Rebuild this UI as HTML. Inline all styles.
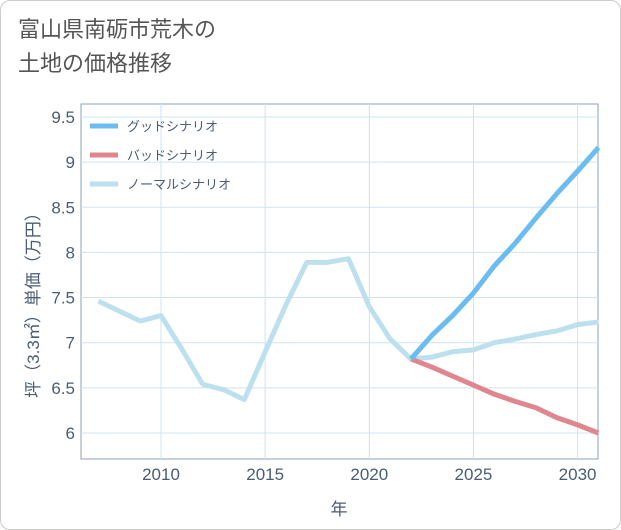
<!DOCTYPE html>
<html><head><meta charset="utf-8"><style>
body{margin:0;background:#fff;font-family:"Liberation Sans","Noto Sans CJK JP",sans-serif;}
#wrap{position:relative;width:619px;height:528px;border:1px solid #ccc;border-radius:10px;overflow:hidden;}
#title{position:absolute;left:17px;top:12px;font-size:22px;line-height:34px;color:#555;}
</style></head><body>
<div id="wrap">
<div id="title">富山県南砺市荒木の<br>土地の価格推移</div>
<svg id="chart" width="621" height="530" style="position:absolute;left:0;top:0"></svg>
</div>
<script>
const years=[2007,2008,2009,2010,2011,2012,2013,2014,2015,2016,2017,2018,2019,2020,2021,2022,2023,2024,2025,2026,2027,2028,2029,2030,2031];
const normalVals=[7.46,7.35,7.24,7.30,6.93,6.54,6.48,6.37,6.90,7.42,7.89,7.89,7.93,7.40,7.04,6.82,6.84,6.90,6.92,7.00,7.04,7.09,7.13,7.20,7.23];
const futureYears=[2022,2023,2024,2025,2026,2027,2028,2029,2030,2031];
const goodVals=[6.82,7.08,7.30,7.55,7.85,8.10,8.38,8.65,8.90,9.16];
const badVals=[6.82,6.73,6.63,6.53,6.43,6.35,6.28,6.17,6.09,6.00];
const xTicks=[2010,2015,2020,2025,2030];
const yTicks=[6,6.5,7,7.5,8,8.5,9,9.5];
const legendLabels=["グッドシナリオ","バッドシナリオ","ノーマルシナリオ"];
const colors=["#6bbcf0","#e0868e","#bde0ee"];
const L=80,R=597,T=103,B=458;
const x=v=>160+(v-2010)*20.83;
const y=v=>432-(v-6)*90.3;
const svg=document.getElementById('chart');
const NS='http://www.w3.org/2000/svg';
function mk(t,a){const e=document.createElementNS(NS,t);for(const k in a)e.setAttribute(k,a[k]);svg.appendChild(e);return e;}
const bg=mk('rect',{x:L,y:T,width:R-L,height:B-T,fill:'#fff',stroke:'#8aa0b8','stroke-width':1});


xTicks.forEach(t=>{const g=mk('line',{x1:x(t),x2:x(t),y1:T,y2:B,stroke:'#cfe3f0','stroke-width':1});


const tx=mk('text',{x:x(t),y:479,'text-anchor':'middle','font-size':17,fill:'#4a5d73'});tx.textContent=t;

});
yTicks.forEach(t=>{const g=mk('line',{x1:L,x2:R,y1:y(t),y2:y(t),stroke:'#cfe3f0','stroke-width':1});


const tx=mk('text',{x:74,y:y(t)+6,'text-anchor':'end','font-size':17,fill:'#4a5d73'});tx.textContent=t;

});
function line(xs,vs,c,name){const p=mk('polyline',{points:xs.map((yr,i)=>x(yr)+','+y(vs[i])).join(' '),fill:'none',stroke:c,'stroke-width':5,'stroke-linejoin':'round'});

}
line(years,normalVals,colors[2],'normal-line');
line(futureYears,badVals,colors[1],'bad-line');
line(futureYears,goodVals,colors[0],'good-line');
legendLabels.forEach((lb,i)=>{const yy=125+i*29;
const l=mk('line',{x1:89,x2:117,y1:yy,y2:yy,stroke:colors[i],'stroke-width':5});


const t=mk('text',{x:126,y:yy+5,'font-size':13,fill:'#4a5d73'});t.textContent=lb;

});
const xt=mk('text',{x:338,y:514,'text-anchor':'middle','font-size':17,fill:'#4a5d73'});xt.textContent='年';


const yt=mk('text',{x:0,y:0,'text-anchor':'middle','font-size':17,fill:'#4a5d73',transform:'translate(38,300) rotate(-90)'});yt.textContent='坪（3.3㎡）単価（万円）';


</script>
</body></html>
